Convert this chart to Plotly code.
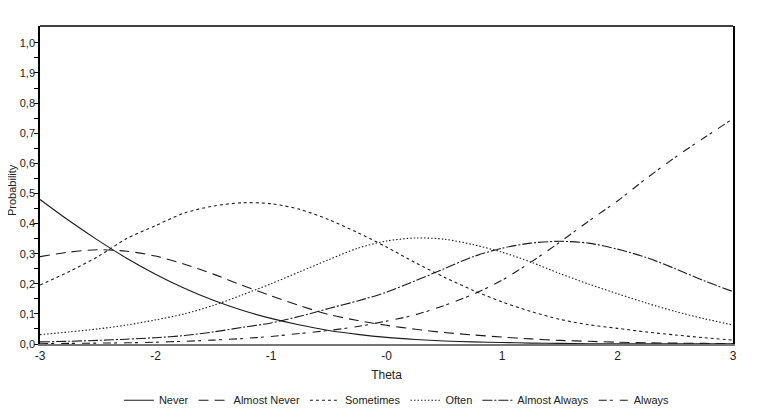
import plotly.graph_objects as go

theta = [-3, -2.75, -2.5, -2.25, -2, -1.75, -1.5, -1.25, -1, -0.75, -0.5, -0.25, 0,
         0.25, 0.5, 0.75, 1, 1.25, 1.5, 1.75, 2, 2.25, 2.5, 2.75, 3]

never = [0.480, 0.410, 0.345, 0.285, 0.232, 0.185, 0.145, 0.112, 0.085, 0.063, 0.045, 0.032, 0.022,
         0.015, 0.010, 0.007, 0.005, 0.003, 0.002, 0.001, 0.001, 0.0008, 0.0006, 0.0005, 0.0004]
almost_never = [0.290, 0.305, 0.313, 0.308, 0.292, 0.265, 0.232, 0.195, 0.160, 0.127, 0.098, 0.078, 0.062,
                0.049, 0.038, 0.030, 0.023, 0.017, 0.012, 0.009, 0.006, 0.004, 0.003, 0.002, 0.0015]
sometimes = [0.196, 0.240, 0.290, 0.350, 0.393, 0.435, 0.458, 0.469, 0.466, 0.447, 0.413, 0.370, 0.322,
             0.270, 0.222, 0.178, 0.140, 0.108, 0.082, 0.064, 0.052, 0.040, 0.030, 0.021, 0.013]
often = [0.031, 0.040, 0.050, 0.063, 0.080, 0.100, 0.128, 0.163, 0.200, 0.240, 0.280, 0.318, 0.342,
         0.352, 0.348, 0.330, 0.305, 0.272, 0.234, 0.199, 0.167, 0.136, 0.108, 0.084, 0.063]
almost_always = [0.007, 0.009, 0.012, 0.016, 0.021, 0.028, 0.040, 0.055, 0.070, 0.092, 0.118, 0.143, 0.172,
                 0.210, 0.250, 0.290, 0.318, 0.335, 0.341, 0.335, 0.315, 0.287, 0.250, 0.210, 0.174]
always = [0.001, 0.002, 0.003, 0.004, 0.006, 0.009, 0.013, 0.018, 0.025, 0.035, 0.045, 0.058, 0.076,
          0.097, 0.128, 0.165, 0.212, 0.272, 0.338, 0.408, 0.475, 0.550, 0.620, 0.685, 0.748]

series = [
    ("Never", never, "solid"),
    ("Almost Never", almost_never, "10px,6px"),
    ("Sometimes", sometimes, "3px,3px"),
    ("Often", often, "1.5px,2px"),
    ("Almost Always", almost_always, "10px,2px,2px,2px"),
    ("Always", always, "8px,3px,3px,7px"),
]

y_ticks = [0, 0.1, 0.2, 0.3, 0.4, 0.5, 0.6, 0.7, 0.8, 0.9, 1.0]
y_labels = ["0,0", "0,1", "0,2", "0,3", "0,4", "0,5", "0,6", "0,7", "0,8", "1,9", "1,0"]
x_ticks = [-3, -2, -1, 0, 1, 2, 3]
x_labels = ["-3", "-2", "-1", "-0", "1", "2", "3"]

fnt = "Liberation Sans Narrow, Liberation Sans, Arial, sans-serif"

fig = go.Figure()
for name, vals, dash in series:
    fig.add_trace(go.Scatter(
        x=theta, y=vals, name=name, mode="lines",
        line=dict(color="#1a1a1a", width=1.1, dash=dash, shape="spline", smoothing=0.8),
    ))

# page body adds an 8px margin, so the figure is sized to fit the window
fig.update_layout(
    width=758, height=406,
    margin=dict(l=32, r=33, t=18, b=70),
    paper_bgcolor="white", plot_bgcolor="white",
    font=dict(family=fnt, size=12, color="#222"),
    showlegend=True,
    legend=dict(orientation="h", x=0.515, xanchor="center", y=0.034, yanchor="middle", yref="container",
                font=dict(size=11), itemwidth=30, traceorder="normal"),
    shapes=[dict(type="line", xref="paper", yref="paper", x0=0, x1=1, y0=1, y1=1,
                 line=dict(color="black", width=1.5))],
    annotations=[dict(text="Probability", xref="paper", yref="paper", x=-0.0405, y=0.484,
                      xanchor="center", yanchor="middle", textangle=-90, showarrow=False,
                      font=dict(size=11))],
)
fig.update_xaxes(
    range=[-3, 3], tickvals=x_ticks, ticktext=x_labels, ticks="", automargin=False,
    showgrid=False, zeroline=False, showline=True, linecolor="#777", linewidth=2,
    title=dict(text="Theta", font=dict(size=12), standoff=8),
)
fig.update_yaxes(
    range=[0, 1.056], tickvals=y_ticks, ticktext=y_labels, ticks="outside", ticklen=4,
    automargin=False, tickfont=dict(size=11), ticklabelstandoff=-3,
    tickcolor="black", minor=dict(tickvals=[0.05 + 0.1 * i for i in range(10)], ticks="outside",
                                  ticklen=4, tickcolor="black"),
    showgrid=False, zeroline=False, showline=True, linecolor="black", linewidth=1.5, mirror=True,
)

fig.write_html("out.html")
